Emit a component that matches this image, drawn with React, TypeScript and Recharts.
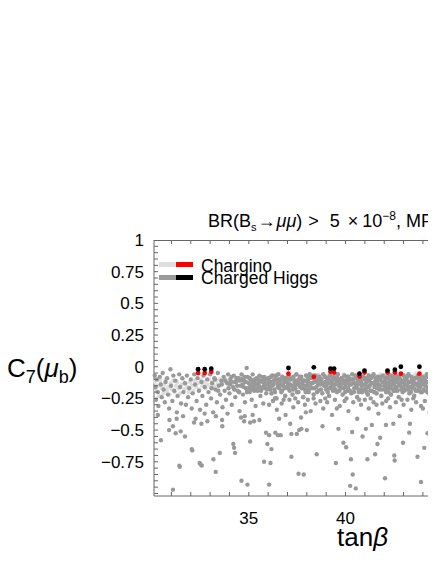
import { ScatterChart, Scatter, XAxis, YAxis } from "recharts";

// tanβ vs C7(μb) scan points, [tanβ, C7]
const charginoBand = [
  [30.15, -0.12], [30.22, -0.19], [30.3, -0.15], [30.36, -0.23], [30.42, -0.11], [30.5, -0.17], [30.57, -0.21],
  [30.63, -0.14], [30.7, -0.1], [30.76, -0.19], [30.83, -0.16], [30.9, -0.22], [30.96, -0.13], [31.03, -0.18],
  [31.1, -0.11], [31.17, -0.2], [31.24, -0.15], [31.3, -0.12], [31.38, -0.17], [31.45, -0.21], [31.52, -0.14],
  [31.6, -0.1], [31.67, -0.18], [31.74, -0.13], [31.82, -0.16], [31.9, -0.2], [31.97, -0.12], [32.05, -0.15],
  [32.13, -0.19], [32.2, -0.11], [32.28, -0.16], [32.36, -0.13], [32.44, -0.18], [32.52, -0.1], [32.6, -0.15],
  [32.68, -0.12], [32.77, -0.17], [32.85, -0.14], [32.93, -0.1], [33.02, -0.16], [33.1, -0.12], [33.2, -0.15],
  [33.3, -0.11], [33.4, -0.14], [33.5, -0.1], [33.62, -0.13], [33.75, -0.09], [33.88, -0.12], [34.0, -0.1],
  [34.15, -0.13], [34.3, -0.09], [34.45, -0.11], [34.6, -0.08], [34.78, -0.1], [34.95, -0.12], [35.1, -0.09],
  [35.3, -0.11], [35.5, -0.08], [35.7, -0.1], [35.9, -0.09], [36.1, -0.11], [36.3, -0.08], [38.0, -0.07],
  [38.6, -0.065], [39.1, -0.07], [39.9, -0.06], [40.5, -0.07], [41.2, -0.065], [41.8, -0.06], [42.4, -0.07],
  [43.0, -0.065], [43.6, -0.06], [44.2, -0.07],
];

const higgsLeft = [
  [30.14, -0.07], [30.18, -0.16], [30.2, -0.26], [30.25, -0.1], [30.3, -0.2], [30.33, -0.31], [30.4, -0.08],
  [30.45, -0.14], [30.5, -0.24], [30.55, -0.05], [30.6, -0.18], [30.66, -0.28], [30.7, -0.12], [30.78, -0.09],
  [30.82, -0.22], [30.88, -0.33], [30.95, -0.02], [30.98, -0.15], [31.05, -0.27], [31.1, -0.07], [31.15, -0.19],
  [31.2, -0.11], [31.28, -0.36], [31.32, -0.23], [31.4, -0.06], [31.45, -0.16], [31.5, -0.29], [31.56, -0.09],
  [31.62, -0.2], [31.7, -0.13], [31.75, -0.3], [31.8, -0.07], [31.86, -0.24], [31.92, -0.17], [32.0, -0.1],
  [32.05, -0.33], [32.1, -0.21], [32.18, -0.06], [32.22, -0.14], [32.3, -0.27], [32.35, -0.09], [32.42, -0.19],
  [32.48, -0.34], [32.55, -0.12], [32.6, -0.23], [32.66, -0.07], [32.72, -0.16], [32.8, -0.3], [32.85, -0.1],
  [32.92, -0.2], [33.0, -0.06], [33.05, -0.25], [33.1, -0.13], [33.16, -0.36], [33.22, -0.09], [33.28, -0.18],
  [33.35, -0.28], [33.4, -0.05], [33.45, -0.15], [33.52, -0.22], [33.58, -0.11], [33.64, -0.32], [33.7, -0.08],
  [33.75, -0.19], [33.82, -0.26], [33.88, -0.13], [33.93, -0.06], [34.0, -0.21], [34.05, -0.1], [34.12, -0.3],
  [34.18, -0.16], [34.22, -0.07], [34.3, -0.24], [34.35, -0.12], [34.42, -0.19], [34.48, -0.09], [34.52, -0.35],
  [34.58, -0.15], [34.63, -0.06], [34.7, -0.22], [34.75, -0.11], [34.8, -0.28], [34.85, -0.17], [34.89, -0.01],
  [34.93, -0.08], [35.0, -0.13], [35.05, -0.2], [35.1, -0.1], [35.15, -0.26], [35.2, -0.06], [35.25, -0.16],
  [35.3, -0.12], [35.35, -0.31], [35.4, -0.09], [35.45, -0.19], [35.5, -0.14], [35.55, -0.07], [35.6, -0.23],
  [35.65, -0.11], [35.7, -0.17], [35.75, -0.29], [35.8, -0.08], [35.85, -0.13], [35.9, -0.21], [35.95, -0.1],
  [34.02, -0.14], [34.1, -0.08], [34.27, -0.12], [34.4, -0.15], [34.55, -0.11], [34.68, -0.14], [34.78, -0.08],
  [34.97, -0.17], [35.08, -0.15], [35.18, -0.11], [35.28, -0.19], [35.38, -0.14], [35.48, -0.1], [35.58, -0.16],
  [35.68, -0.08], [35.78, -0.15], [35.88, -0.17], [35.98, -0.14],
];

const higgsRight = [
  [36.02, -0.09], [36.07, -0.16], [36.12, -0.12], [36.17, -0.21], [36.22, -0.07], [36.27, -0.14], [36.32, -0.18],
  [36.38, -0.1], [36.43, -0.25], [36.48, -0.13], [36.53, -0.06], [36.58, -0.17], [36.63, -0.11], [36.68, -0.2],
  [36.73, -0.08], [36.78, -0.15], [36.83, -0.12], [36.88, -0.23], [36.93, -0.09], [36.97, -0.16],
  [37.02, -0.13], [37.06, -0.07], [37.11, -0.19], [37.16, -0.1], [37.21, -0.15], [37.26, -0.22], [37.31, -0.08],
  [37.36, -0.12], [37.41, -0.17], [37.46, -0.06], [37.51, -0.14], [37.56, -0.2], [37.61, -0.1], [37.66, -0.16],
  [37.71, -0.08], [37.76, -0.13], [37.81, -0.24], [37.86, -0.11], [37.91, -0.18], [37.96, -0.07],
  [38.01, -0.15], [38.06, -0.1], [38.1, -0.2], [38.15, -0.06], [38.2, -0.13], [38.25, -0.17], [38.3, -0.09],
  [38.35, -0.22], [38.4, -0.12], [38.45, -0.07], [38.5, -0.16], [38.55, -0.11], [38.6, -0.19], [38.65, -0.08],
  [38.7, -0.14], [38.75, -0.1], [38.8, -0.21], [38.85, -0.06], [38.9, -0.15], [38.95, -0.12],
  [39.0, -0.18], [39.05, -0.09], [39.1, -0.13], [39.15, -0.23], [39.2, -0.07], [39.25, -0.16], [39.3, -0.11],
  [39.35, -0.19], [39.4, -0.08], [39.45, -0.14], [39.5, -0.1], [39.55, -0.2], [39.6, -0.06], [39.65, -0.15],
  [39.7, -0.12], [39.75, -0.17], [39.8, -0.09], [39.85, -0.22], [39.9, -0.13], [39.95, -0.07],
  [40.0, -0.16], [40.05, -0.11], [40.1, -0.19], [40.15, -0.08], [40.2, -0.14], [40.25, -0.1], [40.3, -0.21],
  [40.35, -0.06], [40.4, -0.13], [40.45, -0.17], [40.5, -0.09], [40.55, -0.15], [40.6, -0.24], [40.65, -0.11],
  [40.7, -0.07], [40.75, -0.18], [40.8, -0.12], [40.85, -0.2], [40.9, -0.08], [40.95, -0.14],
  [41.0, -0.1], [41.05, -0.17], [41.1, -0.12], [41.15, -0.22], [41.2, -0.07], [41.25, -0.15], [41.3, -0.09],
  [41.35, -0.19], [41.4, -0.13], [41.45, -0.06], [41.5, -0.16], [41.55, -0.11], [41.6, -0.21], [41.65, -0.08],
  [41.7, -0.14], [41.75, -0.18], [41.8, -0.1], [41.85, -0.23], [41.9, -0.12], [41.95, -0.07],
  [42.0, -0.15], [42.05, -0.09], [42.1, -0.2], [42.15, -0.13], [42.2, -0.06], [42.25, -0.17], [42.3, -0.11],
  [42.35, -0.22], [42.4, -0.08], [42.45, -0.14], [42.5, -0.1], [42.55, -0.19], [42.6, -0.07], [42.65, -0.16],
  [42.7, -0.12], [42.75, -0.24], [42.8, -0.09], [42.85, -0.15], [42.9, -0.11], [42.95, -0.2],
  [43.0, -0.07], [43.05, -0.13], [43.1, -0.18], [43.15, -0.1], [43.2, -0.15], [43.25, -0.06], [43.3, -0.21],
  [43.35, -0.12], [43.4, -0.08], [43.45, -0.17], [43.5, -0.11], [43.55, -0.23], [43.6, -0.09], [43.65, -0.14],
  [43.7, -0.19], [43.75, -0.07], [43.8, -0.12], [43.85, -0.16], [43.9, -0.1], [43.95, -0.2],
  [44.0, -0.08], [44.05, -0.14], [44.1, -0.11], [44.15, -0.19], [44.2, -0.06], [44.25, -0.16], [44.3, -0.12],
  [44.35, -0.22], [44.4, -0.09], [44.45, -0.15], [44.5, -0.1], [44.55, -0.18], [44.6, -0.07], [44.65, -0.13],
];

const higgsCore = [
  [36.04, -0.12], [36.1, -0.18], [36.15, -0.08], [36.2, -0.15], [36.3, -0.11], [36.35, -0.2], [36.41, -0.07],
  [36.5, -0.16], [36.56, -0.1], [36.66, -0.14], [36.71, -0.19], [36.8, -0.09], [36.86, -0.17], [36.95, -0.12],
  [37.04, -0.17], [37.09, -0.1], [37.14, -0.14], [37.24, -0.09], [37.29, -0.18], [37.34, -0.15], [37.44, -0.11],
  [37.49, -0.2], [37.58, -0.13], [37.64, -0.08], [37.74, -0.17], [37.79, -0.11], [37.88, -0.15], [37.94, -0.2],
  [38.03, -0.12], [38.08, -0.18], [38.13, -0.09], [38.18, -0.16], [38.28, -0.13], [38.33, -0.07], [38.38, -0.17],
  [38.48, -0.1], [38.53, -0.2], [38.58, -0.14], [38.68, -0.11], [38.73, -0.18], [38.83, -0.13], [38.93, -0.08],
  [38.98, -0.16], [39.03, -0.14], [39.08, -0.2], [39.13, -0.1], [39.18, -0.17], [39.28, -0.13], [39.33, -0.08],
  [39.38, -0.16], [39.48, -0.18], [39.53, -0.12], [39.58, -0.09], [39.68, -0.19], [39.73, -0.1], [39.78, -0.14],
  [39.88, -0.17], [39.93, -0.11], [39.98, -0.2], [40.03, -0.13], [40.08, -0.08], [40.13, -0.17], [40.18, -0.11],
  [40.23, -0.19], [40.28, -0.14], [40.38, -0.1], [40.43, -0.2], [40.48, -0.13], [40.53, -0.07], [40.58, -0.17],
  [40.63, -0.14], [40.68, -0.2], [40.78, -0.1], [40.83, -0.15], [40.93, -0.18], [40.98, -0.09], [41.03, -0.14],
  [41.08, -0.2], [41.13, -0.09], [41.18, -0.16], [41.23, -0.11], [41.28, -0.19], [41.33, -0.13], [41.38, -0.08],
  [41.48, -0.2], [41.53, -0.14], [41.58, -0.09], [41.63, -0.17], [41.68, -0.11], [41.78, -0.15], [41.83, -0.08],
  [41.88, -0.18], [41.98, -0.12], [42.03, -0.18], [42.08, -0.12], [42.13, -0.16], [42.18, -0.09], [42.23, -0.2],
  [42.28, -0.14], [42.33, -0.07], [42.38, -0.17], [42.43, -0.11], [42.48, -0.19], [42.53, -0.13], [42.58, -0.16],
  [42.63, -0.1], [42.68, -0.19], [42.73, -0.08], [42.78, -0.14], [42.88, -0.18], [42.93, -0.12], [42.98, -0.16],
  [43.03, -0.19], [43.08, -0.1], [43.13, -0.14], [43.18, -0.08], [43.23, -0.18], [43.28, -0.12], [43.33, -0.16],
  [43.38, -0.2], [43.43, -0.1], [43.48, -0.14], [43.53, -0.17], [43.58, -0.13], [43.63, -0.19], [43.68, -0.09],
  [43.73, -0.15], [43.78, -0.18], [43.83, -0.09], [43.88, -0.2], [43.93, -0.14], [43.98, -0.11], [44.03, -0.18],
  [44.08, -0.09], [44.13, -0.15], [44.18, -0.12], [44.23, -0.2], [44.28, -0.08], [44.33, -0.17], [44.38, -0.13],
  [44.43, -0.19], [44.48, -0.11], [44.53, -0.15], [44.58, -0.21], [44.63, -0.1],
  [33.08, -0.17], [33.25, -0.1], [33.42, -0.19], [33.6, -0.14], [33.78, -0.11], [33.95, -0.17], [34.08, -0.12],
  [34.25, -0.18], [34.38, -0.09], [34.5, -0.2], [34.65, -0.1], [34.73, -0.16], [34.83, -0.12], [34.91, -0.2],
  [35.03, -0.09], [35.12, -0.18], [35.22, -0.13], [35.33, -0.1], [35.43, -0.17], [35.53, -0.12], [35.63, -0.19],
  [35.73, -0.12], [35.83, -0.1], [35.93, -0.18],
];

const higgsMid = [
  [36.05, -0.3], [36.25, -0.27], [36.45, -0.34], [36.7, -0.29], [36.9, -0.38], [37.1, -0.26], [37.3, -0.32],
  [37.55, -0.28], [37.7, -0.4], [37.9, -0.3], [38.05, -0.26], [38.2, -0.35], [38.45, -0.29], [38.7, -0.27],
  [38.85, -0.33], [39.05, -0.28], [39.3, -0.38], [39.45, -0.26], [39.7, -0.31], [39.95, -0.27], [40.15, -0.35],
  [40.4, -0.28], [40.6, -0.41], [40.8, -0.3], [41.0, -0.26], [41.2, -0.33], [41.45, -0.28], [41.7, -0.37],
  [41.9, -0.29], [42.1, -0.27], [42.3, -0.32], [42.6, -0.28], [42.8, -0.39], [43.0, -0.3], [43.2, -0.26],
  [43.4, -0.34], [43.65, -0.28], [43.9, -0.31], [44.1, -0.27], [44.35, -0.36], [44.55, -0.3],
  [30.3, -0.38], [30.9, -0.42], [31.6, -0.39], [32.25, -0.41], [33.3, -0.39], [33.9, -0.37], [34.6, -0.4],
  [35.2, -0.38], [35.55, -0.42], [36.35, -0.25], [36.8, -0.26], [37.4, -0.25], [37.95, -0.36], [38.35, -0.25],
  [38.95, -0.25], [39.55, -0.33], [40.05, -0.25], [40.7, -0.26], [41.3, -0.25], [41.6, -0.3], [42.2, -0.25],
  [42.9, -0.26], [43.5, -0.25], [44.0, -0.33], [44.45, -0.25],
];

const higgsOutliers = [
  [30.46, -0.58], [31.08, -0.97], [31.43, -0.79], [30.88, -0.5], [31.08, -0.47], [31.22, -0.525], [31.48, -0.51],
  [31.7, -0.55], [31.27, -0.41], [32.08, -0.66], [32.17, -0.44], [32.46, -0.76], [32.57, -0.78], [32.55, -0.45],
  [32.86, -0.43], [32.72, -0.37], [33.17, -0.73], [33.29, -0.83], [33.5, -0.68], [33.62, -0.42], [33.63, -0.47],
  [34.2, -0.61], [34.29, -0.68], [34.24, -0.64], [34.62, -0.9], [34.93, -0.93], [35.07, -0.59], [34.76, -0.43],
  [34.79, -0.39], [35.27, -0.43], [35.79, -0.75], [36.05, -0.93], [36.12, -0.76], [35.96, -0.61], [36.17, -0.65],
  [35.89, -0.52], [36.05, -0.54], [36.37, -0.52], [36.51, -0.54], [36.65, -0.54], [36.57, -0.41], [37.2, -0.71],
  [37.2, -0.53], [37.14, -0.45], [35.07, -0.44], [37.57, -0.845], [37.84, -0.85], [38.51, -0.69], [37.48, -0.53],
  [37.6, -0.5], [37.72, -0.49], [38.0, -0.5], [38.81, -0.47], [39.5, -0.76], [39.63, -0.49], [39.89, -0.6],
  [40.03, -0.635], [40.24, -0.94], [40.53, -0.96], [40.37, -0.85], [40.28, -0.73], [40.34, -0.515], [40.88, -0.55],
  [41.05, -0.49], [41.36, -0.46], [41.13, -0.73], [41.53, -0.69], [41.65, -0.61], [41.79, -0.56], [42.04, -0.88],
  [42.09, -0.46], [42.47, -0.45], [42.52, -0.7], [42.54, -0.74], [42.97, -0.6], [43.29, -0.52], [43.33, -0.45],
  [43.72, -0.71], [43.9, -0.91], [44.07, -0.64], [44.24, -0.525], [44.5, -0.46], [32.05, -0.65], [32.5, -0.77],
  [31.41, -0.78],
];

// points passing the extra cut: red = chargino, black = charged Higgs
const charginoCut = [
  [32.38, -0.05], [32.72, -0.05], [33.06, -0.04], [37.05, -0.055], [38.36, -0.08], [39.22, -0.04], [39.41, -0.046],
  [40.72, -0.078], [40.98, -0.046], [42.17, -0.044], [42.55, -0.046], [42.86, -0.055], [43.82, -0.055],
];
const higgsCut = [
  [32.38, -0.02], [32.72, -0.02], [33.06, -0.015], [37.05, -0.01], [38.36, -0.005], [39.22, -0.015], [39.41, -0.015],
  [40.72, -0.055], [40.98, -0.03], [42.17, -0.03], [42.55, -0.023], [42.86, 0.0], [43.82, 0.0],
];

const xMajor = [35, 40, 45];
const xMinor = [31, 32, 33, 34, 35, 36, 37, 38, 39, 40, 41, 42, 43, 44, 45, 46, 47, 48, 49];
const yLabels = [-0.75, -0.5, -0.25, 0, 0.25, 0.5, 0.75, 1];
const yMinor = [
  -1, -0.95, -0.9, -0.85, -0.8, -0.75, -0.7, -0.65, -0.6, -0.55, -0.5, -0.45, -0.4, -0.35, -0.3, -0.25, -0.2, -0.15,
  -0.1, -0.05, 0, 0.05, 0.1, 0.15, 0.2, 0.25, 0.3, 0.35, 0.4, 0.45, 0.5, 0.55, 0.6, 0.65, 0.7, 0.75, 0.8, 0.85, 0.9,
  0.95,
];

const FONT = '"Liberation Sans", Arial, sans-serif';
const FRAME = "#666";
const GRAY = "#999999";
const X0 = 30.1, X1 = 50, Y0 = -1.02, Y1 = 1;

// chart box (matches the margins + axis sizes below)
const CW = 600, CH = 556;
const M = { top: 232, left: 145, bottom: 67, right: 69 };
const PL = M.left + 1, PT = M.top, PR = CW - M.right, PB = CH - M.bottom - 1;
// frame overlay helpers (frame + inward ticks only)
const fx = (v: number) => PL + ((v - X0) / (X1 - X0)) * (PR - PL);
const fy = (v: number) => PT + ((Y1 - v) / (Y1 - Y0)) * (PB - PT);

const toPts = (arr: number[][]) => arr.map(([x, y]) => ({ x, y }));
const dot = (fill: string, r: number) => (p: any) => <circle cx={p.cx} cy={p.cy} r={r} fill={fill} />;
const fmt = (v: number) => String(v).replace("-", "\u2212");

function Frame() {
  return (
    <svg width={CW} height={CH} style={{ position: "absolute", left: 0, top: 0, zIndex: 2, pointerEvents: "none" }}>
      <line x1={PL} y1={PT + 0.5} x2={PR} y2={PT + 0.5} stroke={FRAME} strokeWidth={1} />
      <line x1={PR + 0.5} y1={PT} x2={PR + 0.5} y2={PB} stroke={FRAME} strokeWidth={1} />
      {xMinor.map((v) => (
        <g key={`x${v}`}>
          <line x1={fx(v)} y1={PB} x2={fx(v)} y2={PB - 4} stroke={FRAME} strokeWidth={1} />
          <line x1={fx(v)} y1={PT} x2={fx(v)} y2={PT + 4} stroke={FRAME} strokeWidth={1} />
        </g>
      ))}
      {yMinor.map((v) => (
        <line key={`y${v}`} x1={PL} y1={fy(v)} x2={PL + 4} y2={fy(v)} stroke={FRAME} strokeWidth={1} />
      ))}
    </svg>
  );
}

export default function App() {
  return (
    <div style={{ position: "relative", width: 428, height: 556, overflow: "hidden", fontFamily: FONT, color: "#000" }}>
      <ScatterChart width={CW} height={CH} margin={M}>
        <XAxis xAxisId="x" dataKey="x" type="number" domain={[X0, X1]} ticks={xMajor}
          interval={0} height={1} tickLine={false} tickSize={0} tickMargin={16}
          axisLine={{ stroke: FRAME }} tick={{ fontSize: 17, fill: "#000" }} />
        <YAxis yAxisId="y" dataKey="y" type="number" domain={[Y0, Y1]} ticks={yLabels}
          interval={0} width={1} tickLine={false} tickSize={0} tickMargin={10} tickFormatter={fmt}
          axisLine={{ stroke: FRAME }} tick={{ fontSize: 17, fill: "#000" }} />

        <Scatter xAxisId="x" yAxisId="y" data={toPts(charginoBand)} shape={dot("#dedede", 2.2)} isAnimationActive={false} />
        <Scatter xAxisId="x" yAxisId="y" data={toPts(higgsLeft)} shape={dot(GRAY, 2.2)} isAnimationActive={false} />
        <Scatter xAxisId="x" yAxisId="y" data={toPts(higgsRight)} shape={dot(GRAY, 2.3)} isAnimationActive={false} />
        <Scatter xAxisId="x" yAxisId="y" data={toPts(higgsCore)} shape={dot(GRAY, 2.3)} isAnimationActive={false} />
        <Scatter xAxisId="x" yAxisId="y" data={toPts(higgsMid)} shape={dot(GRAY, 2.2)} isAnimationActive={false} />
        <Scatter xAxisId="x" yAxisId="y" data={toPts(higgsOutliers)} shape={dot(GRAY, 2.2)} isAnimationActive={false} />
        <Scatter xAxisId="x" yAxisId="y" data={toPts(charginoCut)} shape={dot("#ff0000", 2.4)} isAnimationActive={false} />
        <Scatter xAxisId="x" yAxisId="y" data={toPts(higgsCut)} shape={dot("#000000", 2.4)} isAnimationActive={false} />
      </ScatterChart>

      <Frame />

      {/* title */}
      <div style={{ position: "absolute", left: 200, top: 204, fontSize: 18, lineHeight: "18px", whiteSpace: "nowrap" }}>
        BR(B<span style={{ fontSize: 11, position: "relative", top: 4 }}>s</span>
        <span style={{ margin: "0 1px" }}>→</span><i>μμ</i>)
        <span style={{ marginLeft: 6, marginRight: 11 }}>&gt;</span>5
        <span style={{ marginLeft: 8, marginRight: 4 }}>×</span>10
        <span style={{ fontSize: 12, position: "relative", top: -7 }}>−8</span>, MFV
      </div>

      {/* legend */}
      <div style={{ position: "absolute", left: 151, top: 254, width: 17, height: 5, background: "#dedede" }} />
      <div style={{ position: "absolute", left: 168, top: 254, width: 17, height: 5, background: "#ff0000" }} />
      <div style={{ position: "absolute", left: 151, top: 267, width: 17, height: 5, background: GRAY }} />
      <div style={{ position: "absolute", left: 168, top: 267, width: 17, height: 5, background: "#000000" }} />
      <div style={{ position: "absolute", left: 193, top: 251.6, fontSize: 17.5, lineHeight: "12px", whiteSpace: "nowrap" }}>Chargino</div>
      <div style={{ position: "absolute", left: 193, top: 264.2, fontSize: 17.5, lineHeight: "12px", whiteSpace: "nowrap" }}>Charged Higgs</div>

      {/* axis labels */}
      <div style={{ position: "absolute", left: -1, top: 348, fontSize: 26, lineHeight: "25px", whiteSpace: "nowrap" }}>
        C<span style={{ fontSize: 18, position: "relative", top: 6 }}>7</span>(<i>μ</i>
        <span style={{ fontSize: 18, position: "relative", top: 6 }}>b</span>)
      </div>
      <div style={{ position: "absolute", left: 329, top: 524, fontSize: 26, lineHeight: "10px", whiteSpace: "nowrap" }}>
        tan<i>β</i>
      </div>
    </div>
  );
}
